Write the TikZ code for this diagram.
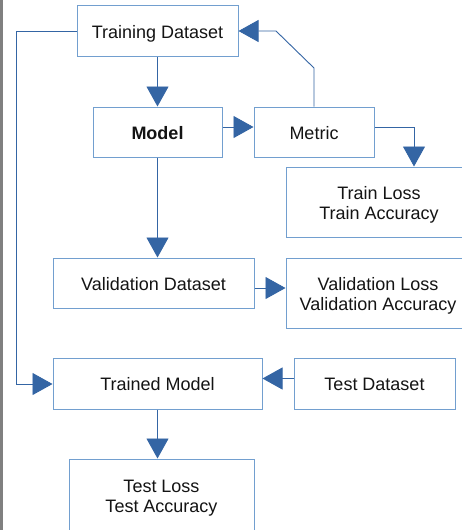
\documentclass[tikz,border=0pt]{standalone}
\usepackage{fontspec}
\setmainfont{Liberation Sans}
\usetikzlibrary{arrows.meta}
\definecolor{boxline}{RGB}{114,159,207}
\definecolor{arrowblue}{RGB}{52,101,164}
\definecolor{txt}{RGB}{20,20,20}
\definecolor{edgegray}{RGB}{128,128,128}
\newcommand{\twolines}[2]{\raisebox{-3pt}[\height][\depth]{\begin{tabular}{@{}c@{}}#1\\#2\end{tabular}}}
\begin{document}
\begin{tikzpicture}[x=1pt,y=-1pt,
  box/.style={draw=boxline,line width=1pt,fill=white,inner sep=0pt,
    text=txt,font=\fontsize{18}{20}\selectfont,align=center},
  oneline/.style={box,text height=17pt,text depth=3pt},
  conn/.style={draw=arrowblue,line width=0.9pt,-{Triangle[length=20pt,width=22pt]}}]
\useasboundingbox (0,0) rectangle (462,530);
\clip (0,0) rectangle (462,530);
\fill[white] (0,0) rectangle (462,530);
\fill[edgegray] (0,0) rectangle (3,530);
% nodes
\node[oneline,minimum width=161pt,minimum height=51pt] (train) at (157.5,31) {Training Dataset};
\node[oneline,minimum width=129pt,minimum height=50pt,font=\fontsize{18}{20}\selectfont\bfseries] (model) at (157.5,132) {Model};
\node[oneline,minimum width=120pt,minimum height=50pt] (metric) at (314,132) {Metric};
\node[box,minimum width=186pt,minimum height=70pt] (trainloss) at (379,202) {\twolines{Train Loss}{Train Accuracy}};
\node[oneline,minimum width=201pt,minimum height=50pt] (val) at (153.5,283) {Validation Dataset};
\node[box,minimum width=184pt,minimum height=70pt] (valloss) at (378,293) {\twolines{Validation Loss}{Validation Accuracy}};
\node[oneline,minimum width=209pt,minimum height=51pt] (trained) at (157.5,383.5) {Trained Model};
\node[oneline,minimum width=161pt,minimum height=51pt] (test) at (374.5,383.5) {Test Dataset};
\node[box,minimum width=185pt,minimum height=72pt] (testloss) at (161.5,495) {\twolines{Test Loss}{Test Accuracy}};
% connectors
\coordinate (lt) at (16,31);
\coordinate (lb) at (16,384);
\coordinate (mk) at (314,68);
\coordinate (md) at (276,31);
\coordinate (mr) at (414,127);
\draw[conn] (train.south) -- (model.north);
\draw[conn] ([yshift=5pt]model.east) -- ([yshift=5pt]metric.west);
\draw[conn] (metric.north) -- (mk) -- (md) -- (train.east);
\draw[conn] ([yshift=5pt]metric.east) -- (mr) -- (mr |- trainloss.north);
\draw[conn] (train.west) -- (lt) -- (lb) -- (lb -| trained.west);
\draw[conn] (model.south -| train.south) -- (val.north -| train.south);
\draw[conn] ([yshift=-5pt]val.east) -- ([yshift=-5pt]val.east -| valloss.west);
\draw[conn] ([yshift=5pt]test.west) -- ([yshift=5pt]trained.east);
\draw[conn] (trained.south) -- (testloss.north -| trained.south);
\end{tikzpicture}
\end{document}
